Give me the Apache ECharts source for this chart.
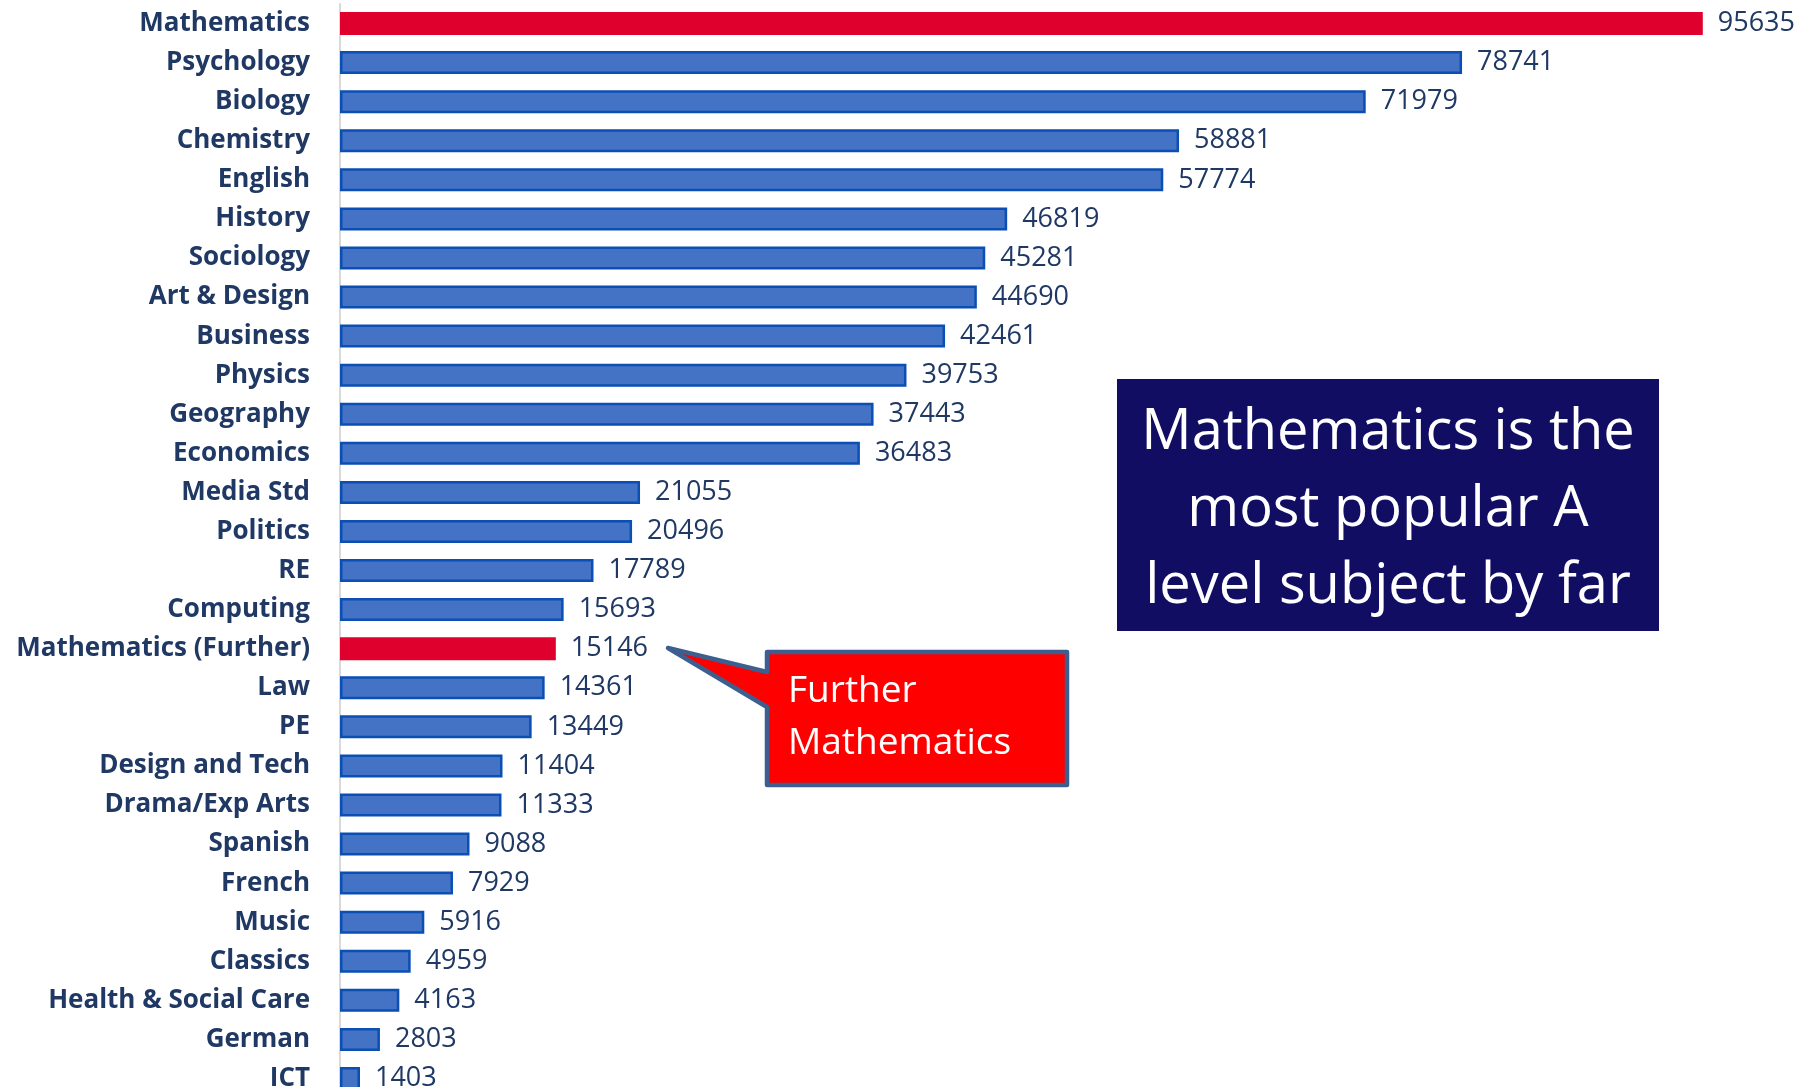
<!DOCTYPE html>
<html>
<head>
<meta charset="utf-8">
<script src="https://cdn.jsdelivr.net/npm/echarts@6/dist/echarts.min.js"></script>
<style>
html,body{margin:0;padding:0;background:#fff;}
#chart{width:1814px;height:1087px;}
</style>
</head>
<body>
<div id="chart"></div>
<script>
var categories = ["Mathematics","Psychology","Biology","Chemistry","English","History","Sociology","Art & Design","Business","Physics","Geography","Economics","Media Std","Politics","RE","Computing","Mathematics (Further)","Law","PE","Design and Tech","Drama/Exp Arts","Spanish","French","Music","Classics","Health & Social Care","German","ICT"];
var entries = [95635,78741,71979,58881,57774,46819,45281,44690,42461,39753,37443,36483,21055,20496,17789,15693,15146,14361,13449,11404,11333,9088,7929,5916,4959,4163,2803,1403];
var highlighted = ["Mathematics","Mathematics (Further)"];
var boxLines = ["Mathematics is the","most popular A","level subject by far"];
var calloutLines = ["Further","Mathematics"];

var chart = echarts.init(document.getElementById('chart'));
var seriesData = entries.map(function(v, i){
  var hi = highlighted.indexOf(categories[i]) >= 0;
  return {
    value: v,
    itemStyle: hi ? {color:'#e0002e', borderColor:'#e0002e', borderWidth:0} : {color:'#4472c4', borderColor:'#0b4fb4', borderWidth:2.5}
  };
});

var option = {
  animation: false,
  backgroundColor: '#ffffff',
  grid: {left:340, top:4, width:1425, height:1094, containLabel:false, outerBoundsMode:'none'},
  xAxis: {type:'value', min:0, max:100000, show:false, splitLine:{show:false}},
  yAxis: {
    type:'category', data:categories, inverse:true,
    axisLine:{show:true, lineStyle:{color:'#d9d9d9', width:2}},
    axisTick:{show:false},
    axisLabel:{margin:30, fontFamily:'Open Sans', fontWeight:'bold', fontSize:26, color:'#1f3864'}
  },
  series: [{
    type:'bar', data:seriesData, barWidth:23,
    label:{show:true, position:'right', distance:15, fontFamily:'Open Sans', fontSize:27, color:'#1f3864'}
  }],
  graphic: [
    {type:'rect', shape:{x:1117, y:379, width:542, height:252}, style:{fill:'#100d63'}, z:10},
    {type:'text', x:1388, y:510, style:{text:boxLines.join('\n'), fill:'#ffffff', fontFamily:'Open Sans', fontSize:56, lineHeight:77, align:'center', verticalAlign:'middle'}, z:11},
    {type:'polygon', shape:{points:[[767,652],[1067,652],[1067,785],[767,785],[767,707],[668,648],[767,672]]}, style:{fill:'#ff0000', stroke:'#3d5f8f', lineWidth:4.5, lineJoin:'round'}, z:10},
    {type:'text', x:788, y:717, style:{text:calloutLines.join('\n'), fill:'#ffffff', fontFamily:'Open Sans', fontSize:37, lineHeight:52, align:'left', verticalAlign:'middle'}, z:11}
  ]
};
chart.setOption(option);
</script>
</body>
</html>
